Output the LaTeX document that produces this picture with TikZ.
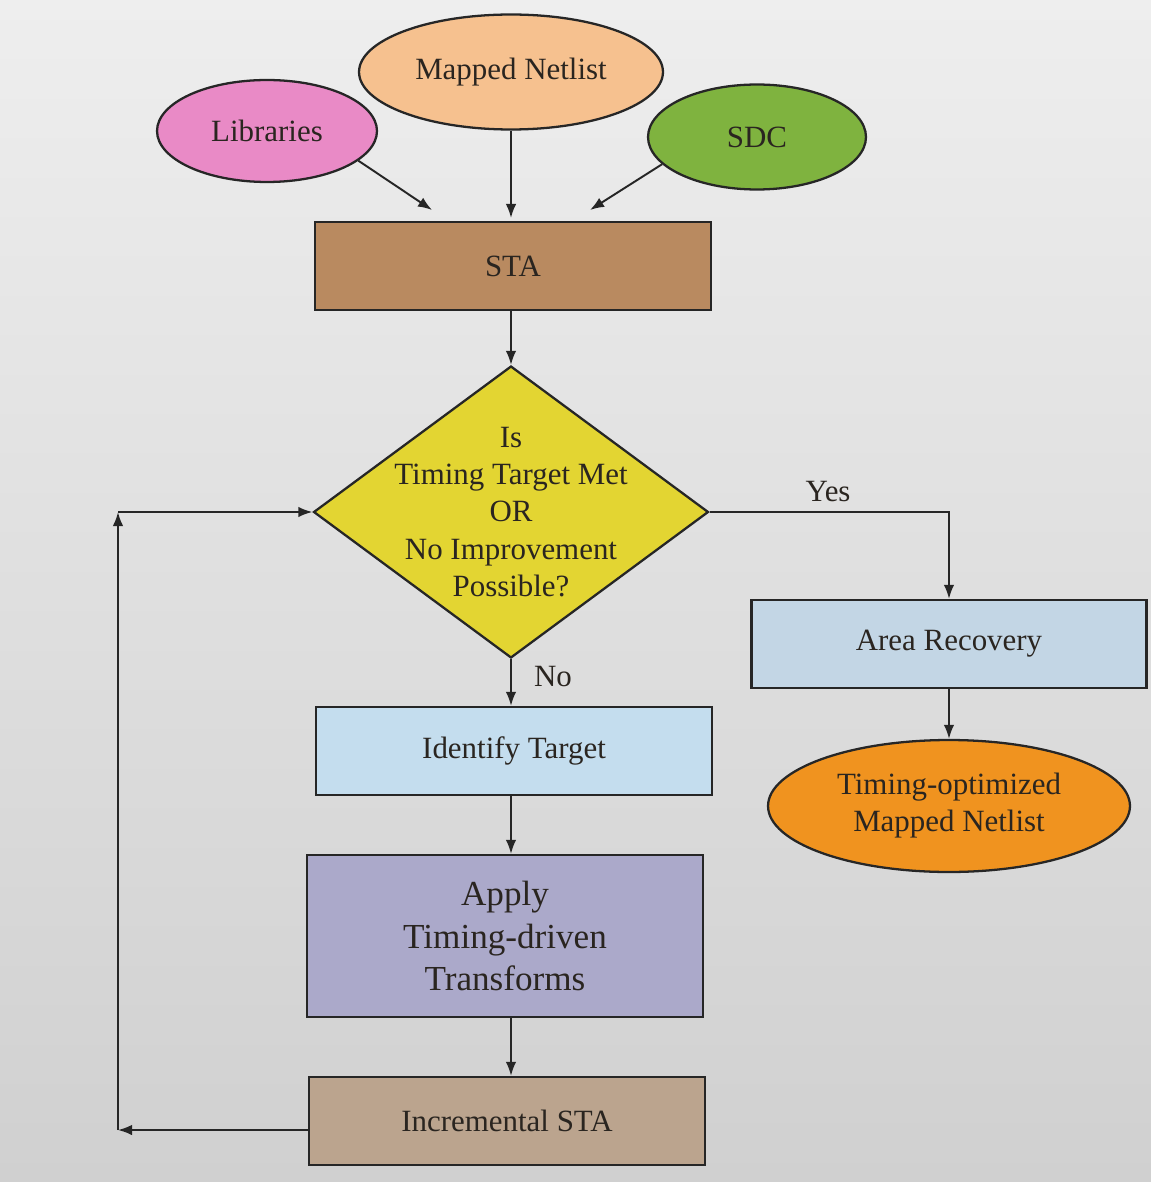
\documentclass[tikz,border=0pt]{standalone}
\usepackage{fontspec}
\setmainfont{Liberation Serif}
\usetikzlibrary{shapes.geometric,arrows.meta}

\definecolor{bgtop}{HTML}{EEEEEE}
\definecolor{bgmid}{HTML}{E7E7E7}
\definecolor{bgbot}{HTML}{D0D0D0}
\definecolor{inkdark}{HTML}{2A2520}
\definecolor{libpink}{HTML}{E98AC6}
\definecolor{netpeach}{HTML}{F6C18F}
\definecolor{sdcgreen}{HTML}{7FB33F}
\definecolor{stabrown}{HTML}{B98A60}
\definecolor{decyellow}{HTML}{E3D532}
\definecolor{areablue}{HTML}{C3D6E5}
\definecolor{idblue}{HTML}{C4DDEE}
\definecolor{applypurple}{HTML}{ABA9CA}
\definecolor{incbrown}{HTML}{BBA48E}
\definecolor{outorange}{HTML}{F0931F}

\begin{document}
\begin{tikzpicture}[x=0.02cm,y=-0.02cm,
	txt/.style={text=inkdark,font=\fontsize{17.6}{21}\selectfont},
	oval/.style={ellipse,draw=black!85,line width=1.3pt,inner sep=0pt,align=center,txt},
	stepbox/.style={rectangle,draw=black!85,line width=1.3pt,minimum width=7.92cm,minimum height=1.76cm,align=center,txt},
	arr/.style={-{Latex[length=8pt,width=6pt]},line width=1.1pt,black!85}]
	\useasboundingbox (0,0) rectangle (1151,1182);
	\shade[top color=bgtop,middle color=bgmid,bottom color=bgbot] (0,0) rectangle (1151,1182);
	% inputs
	\node[oval,fill=libpink,minimum width=4.4cm,minimum height=2.04cm] (lib) at (267,131) {Libraries};
	\node[oval,fill=netpeach,minimum width=6.08cm,minimum height=2.3cm] (mnl) at (511,72) {Mapped Netlist};
	\node[oval,fill=sdcgreen,minimum width=4.36cm,minimum height=2.1cm] (sdc) at (757,137) {SDC};
	\coordinate (libend) at (432,210);
	\coordinate (mnlend) at (511,218);
	\coordinate (sdcend) at (590,210);
	\draw[arr] (lib.-18) -- (libend);
	\draw[arr] (mnl.south) -- (mnlend);
	\draw[arr] (sdc.196) -- (sdcend);
	% main loop
	\node[stepbox,fill=stabrown] (sta) at (513,266) {STA};
	\node[diamond,draw=black!85,line width=1.3pt,fill=decyellow,inner sep=0pt,aspect=1.35,minimum width=7.9cm,minimum height=5.84cm] (dec) at (511,512) {};
	\node[txt,align=center,font=\fontsize{17.6}{21.2}\selectfont] (dectxt) at (dec.center) {Is\\Timing Target Met\\OR\\No Improvement\\Possible?};
	\node[stepbox,fill=idblue] (idt) at (514,751) {Identify Target};
	\node[stepbox,fill=applypurple,minimum height=3.24cm,font=\fontsize{20}{24}\selectfont] (apply) at (505,936) {Apply\\Timing-driven\\Transforms};
	\node[stepbox,fill=incbrown] (inc) at (507,1121) {Incremental STA};
	\draw[arr] (sta.south -| dec.north) -- (dec.north);
	\draw[arr] (dec.south) -- (idt.north -| dec.south);
	\draw[arr] (idt.south -| dec.south) -- (apply.north -| dec.south);
	\draw[arr] (apply.south -| dec.south) -- (inc.north -| dec.south);
	\node[txt] (nolbl) at (553,677) {No};
	% feedback
	\coordinate (fbdown) at (118,1130);
	\coordinate (fbup) at (118,512);
	\draw[arr] (inc.west |- fbdown) -- (fbdown);
	\draw[arr] (fbdown) -- (fbup);
	\draw[arr] (fbup) -- (dec.west);
	% exit
	\node[stepbox,fill=areablue,minimum width=7.9cm] (area) at (949,644) {Area Recovery};
	\node[oval,fill=outorange,minimum width=7.24cm,minimum height=2.64cm] (out) at (949,806) {Timing-optimized\\Mapped Netlist};
	\draw[arr] (dec.east) -| (area.north);
	\draw[arr] (area) -- (out);
	\node[txt] (yeslbl) at (828,492) {Yes};
\end{tikzpicture}
\end{document}
